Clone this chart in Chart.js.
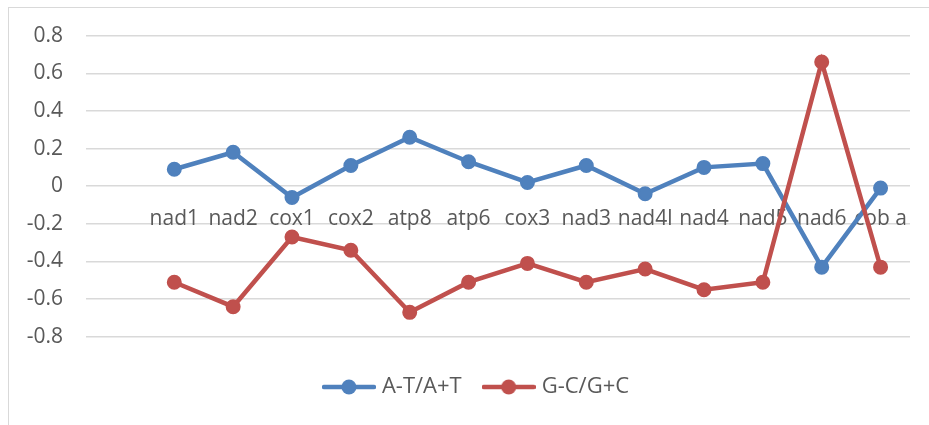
<!DOCTYPE html>
<html>
<head>
<meta charset="utf-8">
<script src="https://cdn.jsdelivr.net/npm/chart.js@4.4.1/dist/chart.umd.min.js"></script>
<style>
  html, body { margin: 0; padding: 0; background: #fff; overflow: hidden; }
  #wrap { position: relative; width: 929px; height: 425px; }
  #frame { position: absolute; left: 8px; top: 7px; width: 930px; height: 425px; border: 1px solid #d9d9d9; box-sizing: border-box; }
  canvas { position: absolute; left: 0; top: 0; }
</style>
</head>
<body>
<div id="wrap">
  <div id="frame"></div>
  <canvas id="c" width="929" height="425"></canvas>
</div>
<script>
const categories = ['', 'nad1', 'nad2', 'cox1', 'cox2', 'atp8', 'atp6', 'cox3', 'nad3', 'nad4l', 'nad4', 'nad5', 'nad6', 'cob a'];
const atSkew = [null, 0.09, 0.18, -0.06, 0.11, 0.26, 0.13, 0.02, 0.11, -0.04, 0.10, 0.12, -0.43, -0.01];
const gcSkew = [null, -0.51, -0.64, -0.27, -0.34, -0.67, -0.51, -0.41, -0.51, -0.44, -0.55, -0.51, 0.66, -0.43];
const seriesNames = ['A-T/A+T', 'G-C/G+C'];
const yTicks = [-0.8, -0.6, -0.4, -0.2, 0, 0.2, 0.4, 0.6, 0.8];

const BLUE = '#4F81BD';
const RED = '#C0504D';
const FONT = "'Open Sans', sans-serif";
const TEXT = '#595959';

function legendIcon(color) {
  const c = document.createElement('canvas');
  c.width = 54; c.height = 16;
  const g = c.getContext('2d');
  g.strokeStyle = color; g.lineWidth = 4.5; g.lineCap = 'round';
  g.beginPath(); g.moveTo(2, 8); g.lineTo(52, 8); g.stroke();
  g.fillStyle = color;
  g.beginPath(); g.arc(27, 8, 7.5, 0, Math.PI * 2); g.fill();
  return c;
}
const icons = [legendIcon(BLUE), legendIcon(RED)];

new Chart(document.getElementById('c'), {
  type: 'line',
  data: {
    labels: categories,
    datasets: [
      { label: seriesNames[0], data: atSkew, borderColor: BLUE, backgroundColor: BLUE,
        borderWidth: 4.5, pointRadius: 6.5, pointBorderWidth: 2, pointBorderColor: BLUE,
        pointBackgroundColor: BLUE, tension: 0, order: 1, yAxisID: 'y' },
      { label: seriesNames[1], data: gcSkew, borderColor: RED, backgroundColor: RED,
        borderWidth: 4.5, pointRadius: 6.5, pointBorderWidth: 2, pointBorderColor: RED,
        pointBackgroundColor: RED, tension: 0, order: 0, yAxisID: 'y' }
    ]
  },
  options: {
    responsive: false,
    animation: false,
    layout: { padding: { left: 0, right: -27, top: 31, bottom: 17 } },
    plugins: {
      tooltip: { enabled: false },
      legend: {
        position: 'bottom',
        title: { display: true, text: '', font: { size: 1 }, padding: { top: 13, bottom: 0 } },
        labels: {
          usePointStyle: true,
          pointStyleWidth: 44,
          padding: 25,
          color: TEXT,
          font: { family: FONT, size: 22 },
          generateLabels: (chart) => chart.data.datasets.map((ds, i) => ({
            text: ds.label, fillStyle: ds.borderColor, strokeStyle: ds.borderColor,
            lineWidth: 0, pointStyle: icons[i], hidden: false, datasetIndex: i, fontColor: TEXT
          }))
        }
      }
    },
    scales: {
      x: {
        position: { y: 0 },
        offset: true,
        grid: { display: false, drawTicks: false },
        border: { display: false },
        ticks: { color: TEXT, font: { family: FONT, size: 21 }, padding: 20, maxRotation: 0, autoSkip: false }
      },
      y: {
        min: -0.8, max: 0.8,
        afterFit: (s) => { s.width = 86; },
        afterBuildTicks: (s) => { s.ticks = yTicks.map(v => ({ value: v })); },
        grid: { color: '#d9d9d9', lineWidth: 1.5, drawTicks: false },
        border: { display: false },
        ticks: {
          color: TEXT, font: { family: FONT, size: 21 }, padding: 23,
          callback: (v) => (Math.round(v * 10) / 10).toString()
        }
      },
      yRight: {
        position: 'right',
        min: -0.8, max: 0.8,
        afterFit: (s) => { s.width = 46; },
        grid: { display: false, drawTicks: false },
        border: { display: false },
        ticks: { display: false }
      }
    }
  }
});
</script>
</body>
</html>
